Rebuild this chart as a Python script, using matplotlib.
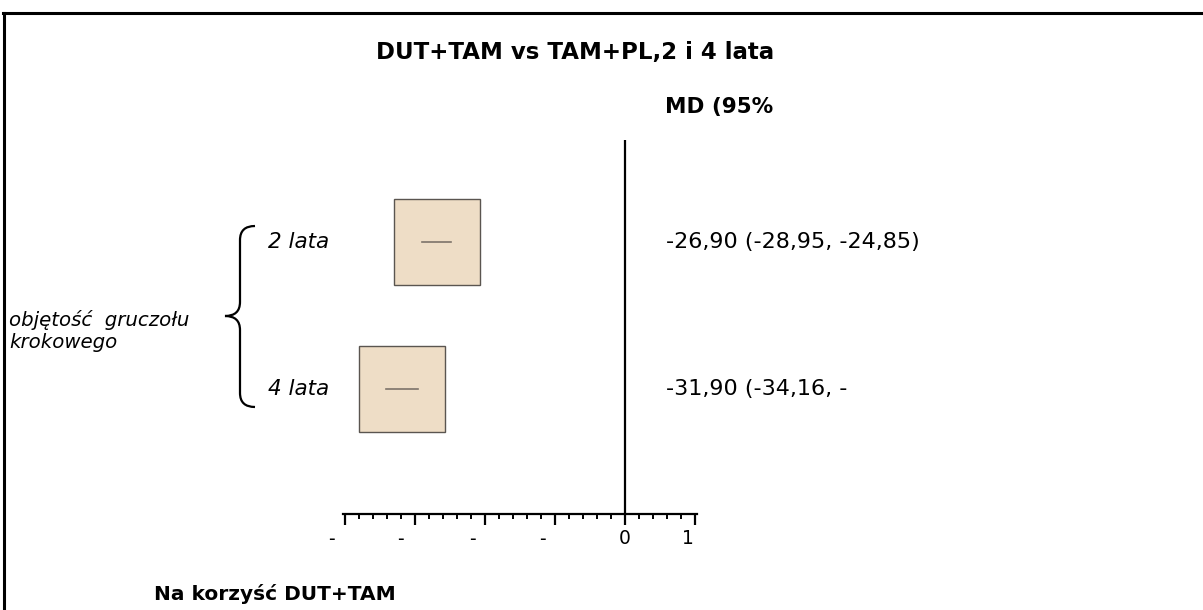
import matplotlib
matplotlib.use("Agg")
import matplotlib.pyplot as plt
from matplotlib.path import Path
from matplotlib.patches import PathPatch
from matplotlib.lines import Line2D
import matplotlib.transforms as mtransforms

# Forest plot data: mean difference with 95% CI
rows = ["2 lata", "4 lata"]
md = [-26.90, -31.90]
ci_lo = [-28.95, -34.16]
ci_hi = [-24.85, -29.64]
group_label = "objętość  gruczołu\nkrokowego"
xticks_major = [-40, -30, -20, -10, 0, 10]
xtick_labels = ["-", "-", "-", "-", "0", "1"]

W, H = 1203, 610
fig = plt.figure(figsize=(W / 100, H / 100), dpi=100)
fig.patch.set_facecolor("white")
plt.rcParams["font.family"] = ["DejaVu Sans"]

# helper transform: pixel coords measured from the top-left corner
px = mtransforms.Affine2D().scale(1 / W, -1 / H).translate(0, 1) + fig.transFigure

# forest axes: 7 px per unit, zero line at x=625
ax = fig.add_axes([342.9 / W, (H - 514) / H, 354.2 / W, 374 / H])
ax.set_xlim(-40.3, 10.3)
ax.set_ylim(1.85, -0.694)
ax.patch.set_alpha(0)
for s in ["top", "right", "left"]:
    ax.spines[s].set_visible(False)
ax.spines["bottom"].set_linewidth(1.6)
ax.yaxis.set_visible(False)
ax.set_xticks(xticks_major)
ax.set_xticks(range(-40, 11, 2), minor=True)
ax.tick_params(axis="x", which="major", direction="out", length=8, width=1.6, labelbottom=False)
ax.tick_params(axis="x", which="minor", direction="out", length=3.5, width=1.4)
ax.axvline(0, color="black", lw=1.6)

for i in range(len(rows)):
    ax.plot([md[i]], [i], marker="s", markersize=62, markerfacecolor="#EEDDC6",
            markeredgecolor="#5a5550", markeredgewidth=1.0, zorder=3)
    ax.plot([ci_lo[i], ci_hi[i]], [i, i], color="#7d736a", lw=1.2, zorder=4)

# truncated tick labels, as in the source layout
offsets = [-14, -15, -13, -13, 0, -7]
for t, lbl, dx in zip(xticks_major, xtick_labels, offsets):
    ax.annotate(lbl, xy=(t, 0), xycoords=("data", "axes fraction"),
                xytext=(dx, -25), textcoords="offset pixels",
                ha="center", va="center", fontsize=13.5)

# row labels and CI text, tied to the row positions
row_y = mtransforms.blended_transform_factory(fig.transFigure, ax.transData)
ci_text = [f"{m:.2f} ({lo:.2f}, {hi:.2f})".replace(".", ",")
           for m, lo, hi in zip(md, ci_lo, ci_hi)]
# the second label wraps in its cell; only the first line is visible
ci_text[1] = ci_text[1][:17]
for i, name in enumerate(rows):
    fig.text(268 / W, i, name, transform=row_y, ha="left", va="center",
             fontsize=15.5, style="italic")
    fig.text(666 / W, i, ci_text[i], transform=row_y, ha="left", va="center",
             fontsize=16)

fig.text(575, 52, "DUT+TAM vs TAM+PL,2 i 4 lata", transform=px, ha="center",
         va="center", fontsize=16.5, fontweight="bold")
fig.text(665, 107, "MD (95%", transform=px, ha="left", va="center",
         fontsize=15.5, fontweight="bold")
fig.text(9, 331, group_label, transform=px, ha="left", va="center",
         fontsize=14.2, style="italic", linespacing=1.15)
fig.text(154, 594, "Na korzyść DUT+TAM", transform=px, ha="left", va="center",
         fontsize=14.5, fontweight="bold")

# curly brace grouping the two rows
verts = [(255, 226), (240, 226), (240, 240), (240, 302), (240, 316), (225, 316),
         (240, 316), (240, 330), (240, 393), (240, 407), (255, 407)]
codes = [Path.MOVETO, Path.CURVE3, Path.CURVE3, Path.LINETO, Path.CURVE3, Path.CURVE3,
         Path.CURVE3, Path.CURVE3, Path.LINETO, Path.CURVE3, Path.CURVE3]
fig.add_artist(PathPatch(Path(verts, codes), transform=px, fill=False, lw=1.6,
                         edgecolor="black"))

# frame lines along the top and left edges
fig.add_artist(Line2D([3, W], [13, 13], transform=px, color="black", lw=2.2))
fig.add_artist(Line2D([4, 4], [13, H], transform=px, color="black", lw=2.2))

fig.savefig("out.png", dpi=100, facecolor="white")
